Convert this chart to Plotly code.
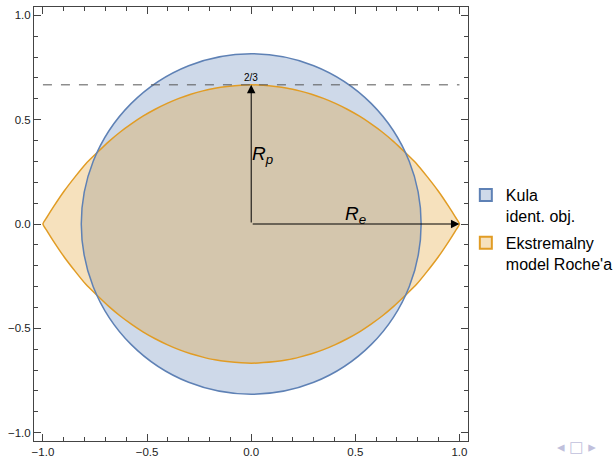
import plotly.graph_objects as go

# ---- data ----
# Roche extreme model boundary, upper-right quadrant (x, y)
roche_x = [0.000, 0.116, 0.174, 0.232, 0.290, 0.347, 0.404, 0.461, 0.518, 0.574,
           0.629, 0.684, 0.738, 0.794, 0.845, 0.898, 0.949, 0.980, 1.000]
roche_y = [0.667, 0.659, 0.651, 0.638, 0.622, 0.602, 0.578, 0.550, 0.518, 0.481,
           0.441, 0.395, 0.344, 0.289, 0.227, 0.158, 0.083, 0.034, 0.000]
sphere_radius = 0.816          # sphere of identical volume
polar_radius = 0.667           # dashed line level, "2/3"
equatorial_radius = 1.0

x_ticks = [-1.0, -0.5, 0.0, 0.5, 1.0]
y_ticks = [-1.0, -0.5, 0.0, 0.5, 1.0]
legend_names = ["Kula<br>ident. obj.", "Ekstremalny<br>model Roche'a"]

BLUE = "#5e81b5"
ORANGE = "#e19c24"
BLUE_FILL = "rgba(94,129,181,0.3)"
ORANGE_FILL = "rgba(225,156,36,0.3)"

# closed outline by mirroring the quadrant
q1x, q1y = roche_x, roche_y
q4x, q4y = roche_x[::-1], [-v for v in roche_y[::-1]]
q3x, q3y = [-v for v in roche_x], [-v for v in roche_y]
q2x, q2y = [-v for v in roche_x[::-1]], roche_y[::-1]
full_x = q1x + q4x[1:] + q3x[1:] + q2x[1:]
full_y = q1y + q4y[1:] + q3y[1:] + q2y[1:]

fig = go.Figure()

fig.add_trace(go.Scatter(x=full_x, y=full_y, mode="lines", fill="toself",
                         fillcolor=ORANGE_FILL, line=dict(color=ORANGE, width=1.5, shape="spline", smoothing=0.6),
                         showlegend=False, hoverinfo="skip"))

# legend entries
fig.add_trace(go.Scatter(x=[None], y=[None], mode="markers", name=legend_names[0], legendgroup="kula",
                         marker=dict(symbol="square", size=12, color=BLUE_FILL,
                                     line=dict(color=BLUE, width=1))))
fig.add_trace(go.Scatter(x=[None], y=[None], mode="markers", name=legend_names[1], legendgroup="roche",
                         marker=dict(symbol="square", size=12, color=ORANGE_FILL,
                                     line=dict(color=ORANGE, width=1))))

fig.add_shape(type="circle", xref="x", yref="y",
              x0=-sphere_radius, x1=sphere_radius, y0=-sphere_radius, y1=sphere_radius,
              fillcolor=BLUE_FILL, line=dict(width=0), layer="below")
fig.add_shape(type="circle", xref="x", yref="y",
              x0=-sphere_radius, x1=sphere_radius, y0=-sphere_radius, y1=sphere_radius,
              line=dict(color=BLUE, width=1.5), layer="above")

fig.add_shape(type="line", xref="x", yref="y", x0=-equatorial_radius, x1=equatorial_radius,
              y0=polar_radius, y1=polar_radius,
              line=dict(color="#555555", width=1, dash="dash"))

# arrows
fig.add_annotation(x=0, y=polar_radius, ax=0, ay=0, xref="x", yref="y", axref="x", ayref="y",
                   showarrow=True, arrowhead=2, arrowsize=1.7, arrowwidth=1, arrowcolor="black",
                   text="")
fig.add_annotation(x=equatorial_radius, y=0, ax=0, ay=0, xref="x", yref="y", axref="x", ayref="y",
                   showarrow=True, arrowhead=2, arrowsize=1.7, arrowwidth=1, arrowcolor="black",
                   text="")
fig.add_annotation(x=0, y=polar_radius, text="2/3", showarrow=False, yshift=7,
                   font=dict(size=10, color="black"))
fig.add_annotation(x=0.055, y=0.33, text="<i>R</i><sub><i>p</i></sub>", showarrow=False,
                   font=dict(size=19, color="black"))
fig.add_annotation(x=0.5, y=0.045, text="<i>R</i><sub><i>e</i></sub>", showarrow=False,
                   font=dict(size=19, color="black"))
fig.add_annotation(xref="paper", yref="paper", x=1.249, y=-0.014, text="◂ □ ▸",
                   showarrow=False, font=dict(size=15, color="#c0c0dc", family="DejaVu Sans"),
                   xanchor="center", yanchor="middle")

axis_common = dict(
    showgrid=False, zeroline=False, showline=True, linecolor="#444444", linewidth=1,
    mirror="allticks", ticks="inside", ticklen=7, tickwidth=1, tickcolor="#444444",
    tickformat=".1f", tickfont=dict(size=11.5, color="#222222", family="Liberation Sans, Arial"),
    minor=dict(ticks="inside", ticklen=4, dtick=0.1, tickcolor="#444444", tickwidth=1),
)
fig.update_xaxes(range=[-1.043, 1.041], tickvals=x_ticks, **axis_common)
fig.update_yaxes(range=[-1.04, 1.04], tickvals=y_ticks, **axis_common)

fig.update_layout(
    width=613, height=457,
    margin=dict(l=34, r=145, t=7, b=16, autoexpand=False),
    paper_bgcolor="white", plot_bgcolor="white",
    font=dict(family="Liberation Sans, Arial", color="black"),
    showlegend=True,
    legend=dict(x=0.995, y=0.487, xanchor="left", yanchor="middle", valign="top",
                font=dict(size=16), tracegroupgap=3, itemsizing="constant",
                bgcolor="rgba(0,0,0,0)"),
)

fig.write_html("out.html", config={"displayModeBar": False},
               post_script="document.body.style.margin='0';document.body.style.overflow='hidden';")
